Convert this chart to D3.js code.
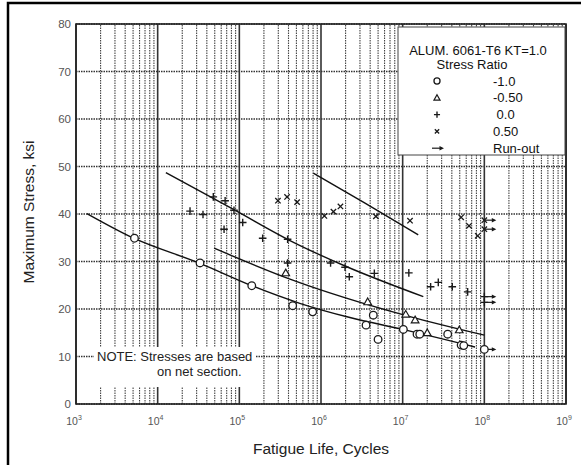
<!DOCTYPE html>
<html>
<head>
<meta charset="utf-8">
<script src="https://cdn.jsdelivr.net/npm/d3@7"></script>
<style>
  html, body { margin: 0; padding: 0; background: #fff; }
  svg { display: block; font-family: "Liberation Sans", Arial, sans-serif; }
</style>
</head>
<body>
<div id="chart"></div>
<script>
// S-N Diagramm ALUM. 6061-T6, KT=1.0
// Punkte: [Zyklen, Spannung ksi]

const yTicks = [0, 10, 20, 30, 40, 50, 60, 70, 80];
const xExponents = [3, 4, 5, 6, 7, 8, 9];

// R = -1.0 (Kreise)
const circlePts = [
  [5.2e3, 34.9], [3.3e4, 29.7], [1.42e5, 24.9], [4.5e5, 20.7], [7.9e5, 19.4],
  [3.56e6, 16.6], [4.37e6, 18.7], [5.0e6, 13.6], [1.02e7, 15.7], [1.5e7, 14.7],
  [1.62e7, 14.7], [3.56e7, 14.7], [5.2e7, 12.4], [5.6e7, 12.3]
];
const circleRunout = [[1.0e8, 11.5]];

// R = -0.50 (Dreiecke)
const trianglePts = [
  [3.7e5, 27.6], [3.73e6, 21.5], [1.09e7, 18.9], [1.42e7, 17.7], [2.0e7, 15.0], [4.93e7, 15.6]
];

// R = 0.0 (Plus)
const plusPts = [
  [2.49e4, 40.6], [3.59e4, 39.9], [4.8e4, 43.6], [6.7e4, 42.8], [8.6e4, 40.8],
  [6.5e4, 36.8], [1.1e5, 38.2], [1.93e5, 34.9], [3.9e5, 34.7], [3.9e5, 29.7],
  [1.31e6, 29.7], [1.97e6, 28.8], [2.22e6, 26.8], [4.5e6, 27.5], [1.19e7, 27.6],
  [2.2e7, 24.7], [2.73e7, 25.6], [4.05e7, 24.7], [6.25e7, 23.6]
];
const plusRunout = [[1.0e8, 22.6], [1.0e8, 21.4]];

// R = 0.50 (Kreuze)
const crossPts = [
  [2.97e5, 42.8], [3.84e5, 43.6], [5.1e5, 42.5], [1.1e6, 39.6], [1.42e6, 40.5],
  [1.73e6, 41.6], [4.7e6, 39.5], [1.23e7, 38.6], [5.2e7, 39.3], [6.5e7, 37.5], [8.3e7, 35.4]
];
const crossRunout = [[1.0e8, 38.7], [1.0e8, 36.8]];

// Ausgleichskurven
const curveR10 = [
  [1.36e3, 40.1], [5.1e3, 34.9], [3.3e4, 29.6], [1.42e5, 24.9], [5.5e5, 21.2],
  [2.26e6, 18.2], [1.0e7, 15.7], [7.7e7, 12.0]
];
const curveR05 = [[4.9e4, 32.8], [4.17e5, 26.3], [1.23e7, 18.4], [1.0e8, 14.5]];
const curveR00 = [[1.26e4, 48.7], [8.6e4, 40.9], [4.17e5, 34.4], [1.97e6, 29.05], [1.79e7, 22.6]];
const curveR50 = [[8.05e5, 48.6], [3.46e6, 42.3], [1.55e7, 35.6]];

const legendTitle = ["ALUM. 6061-T6 KT=1.0", "Stress Ratio"];
const legendLabels = ["-1.0", "-0.50", " 0.0", "0.50", "Run-out"];
const noteLines = ["NOTE: Stresses are based", "on net section."];

const W = 581, H = 465, M = { top: 24, right: 15, bottom: 61, left: 76 };
const svg = d3.select("#chart").append("svg").attr("width", W).attr("height", H);

const x = d3.scaleLog().domain([1e3, 1e9]).range([M.left, W - M.right]);
const y = d3.scaleLinear().domain([0, 80]).range([H - M.bottom, M.top]);

// Rahmen außen
svg.append("rect").attr("x", 8).attr("y", 3).attr("width", 590).attr("height", 480)
  .attr("fill", "none").attr("stroke", "#000").attr("stroke-width", 2.5);

// Gitter vertikal
const vLines = [];
xExponents.forEach(e => {
  for (let k = 1; k <= 9; k++) {
    if (e === 9 && k > 1) break;
    vLines.push({ v: k * Math.pow(10, e), major: k === 1 });
  }
});
const grid = svg.append("g");
grid.selectAll("line.v").data(vLines).enter().append("line")
  .attr("x1", d => x(d.v)).attr("x2", d => x(d.v))
  .attr("y1", y(0)).attr("y2", y(80))
  .attr("stroke", d => d.major ? "#333" : "#444")
  .attr("stroke-width", d => d.major ? 1.6 : 1.1)
  .attr("stroke-dasharray", d => d.major ? null : "1.5,1");

grid.selectAll("line.h").data(yTicks).enter().append("line")
  .attr("x1", x(1e3)).attr("x2", x(1e9))
  .attr("y1", d => y(d)).attr("y2", d => y(d))
  .attr("stroke", "#333").attr("stroke-width", 1.4).attr("stroke-dasharray", "1.5,1");

// Notizbox (weiß über Gitter)
svg.append("rect").attr("x", 94).attr("y", 347).attr("width", 162).attr("height", 40).attr("fill", "#fff");
svg.append("text").attr("x", 97).attr("y", 361).style("font-size", "13px").attr("fill", "#222").text(noteLines[0]);
svg.append("text").attr("x", 157).attr("y", 376).style("font-size", "13px").attr("fill", "#222").text(noteLines[1]);

// Plotrahmen
svg.append("rect").attr("x", x(1e3)).attr("y", y(80))
  .attr("width", x(1e9) - x(1e3)).attr("height", y(0) - y(80))
  .attr("fill", "none").attr("stroke", "#222").attr("stroke-width", 1.6);

// Tick-Labels
svg.append("g").selectAll("text").data(yTicks).enter().append("text")
  .attr("x", M.left - 5).attr("y", d => y(d) + 4)
  .attr("text-anchor", "end").style("font-size", "11.5px").attr("fill", "#555")
  .text(d => d);

const xl = svg.append("g").selectAll("text").data(xExponents).enter().append("text")
  .attr("x", d => x(Math.pow(10, d)) - 2).attr("y", y(0) + 21)
  .attr("text-anchor", "middle").style("font-size", "10.5px").attr("fill", "#555");
xl.append("tspan").text("10");
xl.append("tspan").attr("dy", -5).style("font-size", "7px").text(d => d);

// Achsentitel
svg.append("text").attr("x", (x(1e3) + x(1e9)) / 2).attr("y", 454)
  .attr("text-anchor", "middle").style("font-size", "15.5px").attr("fill", "#222")
  .text("Fatigue Life, Cycles");
svg.append("text").attr("transform", `translate(34, 212) rotate(-90)`)
  .attr("text-anchor", "middle").style("font-size", "15.5px").attr("fill", "#222")
  .text("Maximum Stress, ksi");

// Kurven
const line = d3.line().x(d => x(d[0])).y(d => y(d[1])).curve(d3.curveMonotoneX);
svg.append("g").selectAll("path").data([curveR10, curveR05, curveR00, curveR50]).enter().append("path")
  .attr("d", line).attr("fill", "none").attr("stroke", "#111").attr("stroke-width", 1.4);

// Symbole
const ink = "#1a1a1a";
function drawMark(g, type, cx, cy, s) {
  if (type === "circle") {
    g.append("circle").attr("cx", cx).attr("cy", cy).attr("r", 3.8 * s)
      .attr("fill", "#fff").attr("stroke", ink).attr("stroke-width", 1.3);
  } else if (type === "triangle") {
    const a = 3.8 * s;
    g.append("path").attr("d", `M${cx},${cy - a}L${cx + a},${cy + a * 0.75}L${cx - a},${cy + a * 0.75}Z`)
      .attr("fill", "#fff").attr("stroke", ink).attr("stroke-width", 1.2);
  } else if (type === "plus") {
    const a = 3.8 * s;
    g.append("path").attr("d", `M${cx - a},${cy}H${cx + a}M${cx},${cy - a}V${cy + a}`)
      .attr("stroke", ink).attr("stroke-width", 1.4);
  } else if (type === "cross") {
    const a = 2.7 * s;
    g.append("path").attr("d", `M${cx - a},${cy - a}L${cx + a},${cy + a}M${cx - a},${cy + a}L${cx + a},${cy - a}`)
      .attr("stroke", ink).attr("stroke-width", 1.3);
  }
}
function drawArrow(g, cx, cy) {
  const len = 12;
  g.append("line").attr("x1", cx).attr("x2", cx + len - 2).attr("y1", cy).attr("y2", cy)
    .attr("stroke", ink).attr("stroke-width", 1.2);
  g.append("path").attr("d", `M${cx + len},${cy}L${cx + len - 4.5},${cy - 2.2}L${cx + len - 4.5},${cy + 2.2}Z`)
    .attr("fill", ink);
}

const gm = svg.append("g");
[["circle", circlePts, circleRunout], ["triangle", trianglePts, []],
 ["plus", plusPts, plusRunout], ["cross", crossPts, crossRunout]].forEach(([type, pts, ro]) => {
  pts.forEach(d => drawMark(gm, type, x(d[0]), y(d[1]), 1));
  ro.forEach(d => { drawArrow(gm, x(d[0]), y(d[1])); drawMark(gm, type, x(d[0]), y(d[1]), 1); });
});

// Legende
const lg = svg.append("g");
lg.append("rect").attr("x", 398).attr("y", 27).attr("width", 167).attr("height", 128)
  .attr("fill", "#fff").attr("stroke", "#444").attr("stroke-width", 1);
lg.append("text").attr("x", 478).attr("y", 55).attr("text-anchor", "middle")
  .style("font-size", "13px").attr("fill", "#111").text(legendTitle[0]);
lg.append("text").attr("x", 472).attr("y", 69).attr("text-anchor", "middle")
  .style("font-size", "13px").attr("fill", "#111").text(legendTitle[1]);
const legTypes = ["circle", "triangle", "plus", "cross", "arrow"];
legendLabels.forEach((lab, i) => {
  const cy = 81 + i * 16.8;
  if (legTypes[i] === "arrow") {
    drawArrow(lg, 432, cy);
  } else {
    drawMark(lg, legTypes[i], 437, cy, 0.8);
  }
  lg.append("text").attr("x", 493).attr("y", cy + 4.5)
    .style("font-size", "13px").style("white-space", "pre").attr("fill", "#111").text(lab);
});
</script>
</body>
</html>
